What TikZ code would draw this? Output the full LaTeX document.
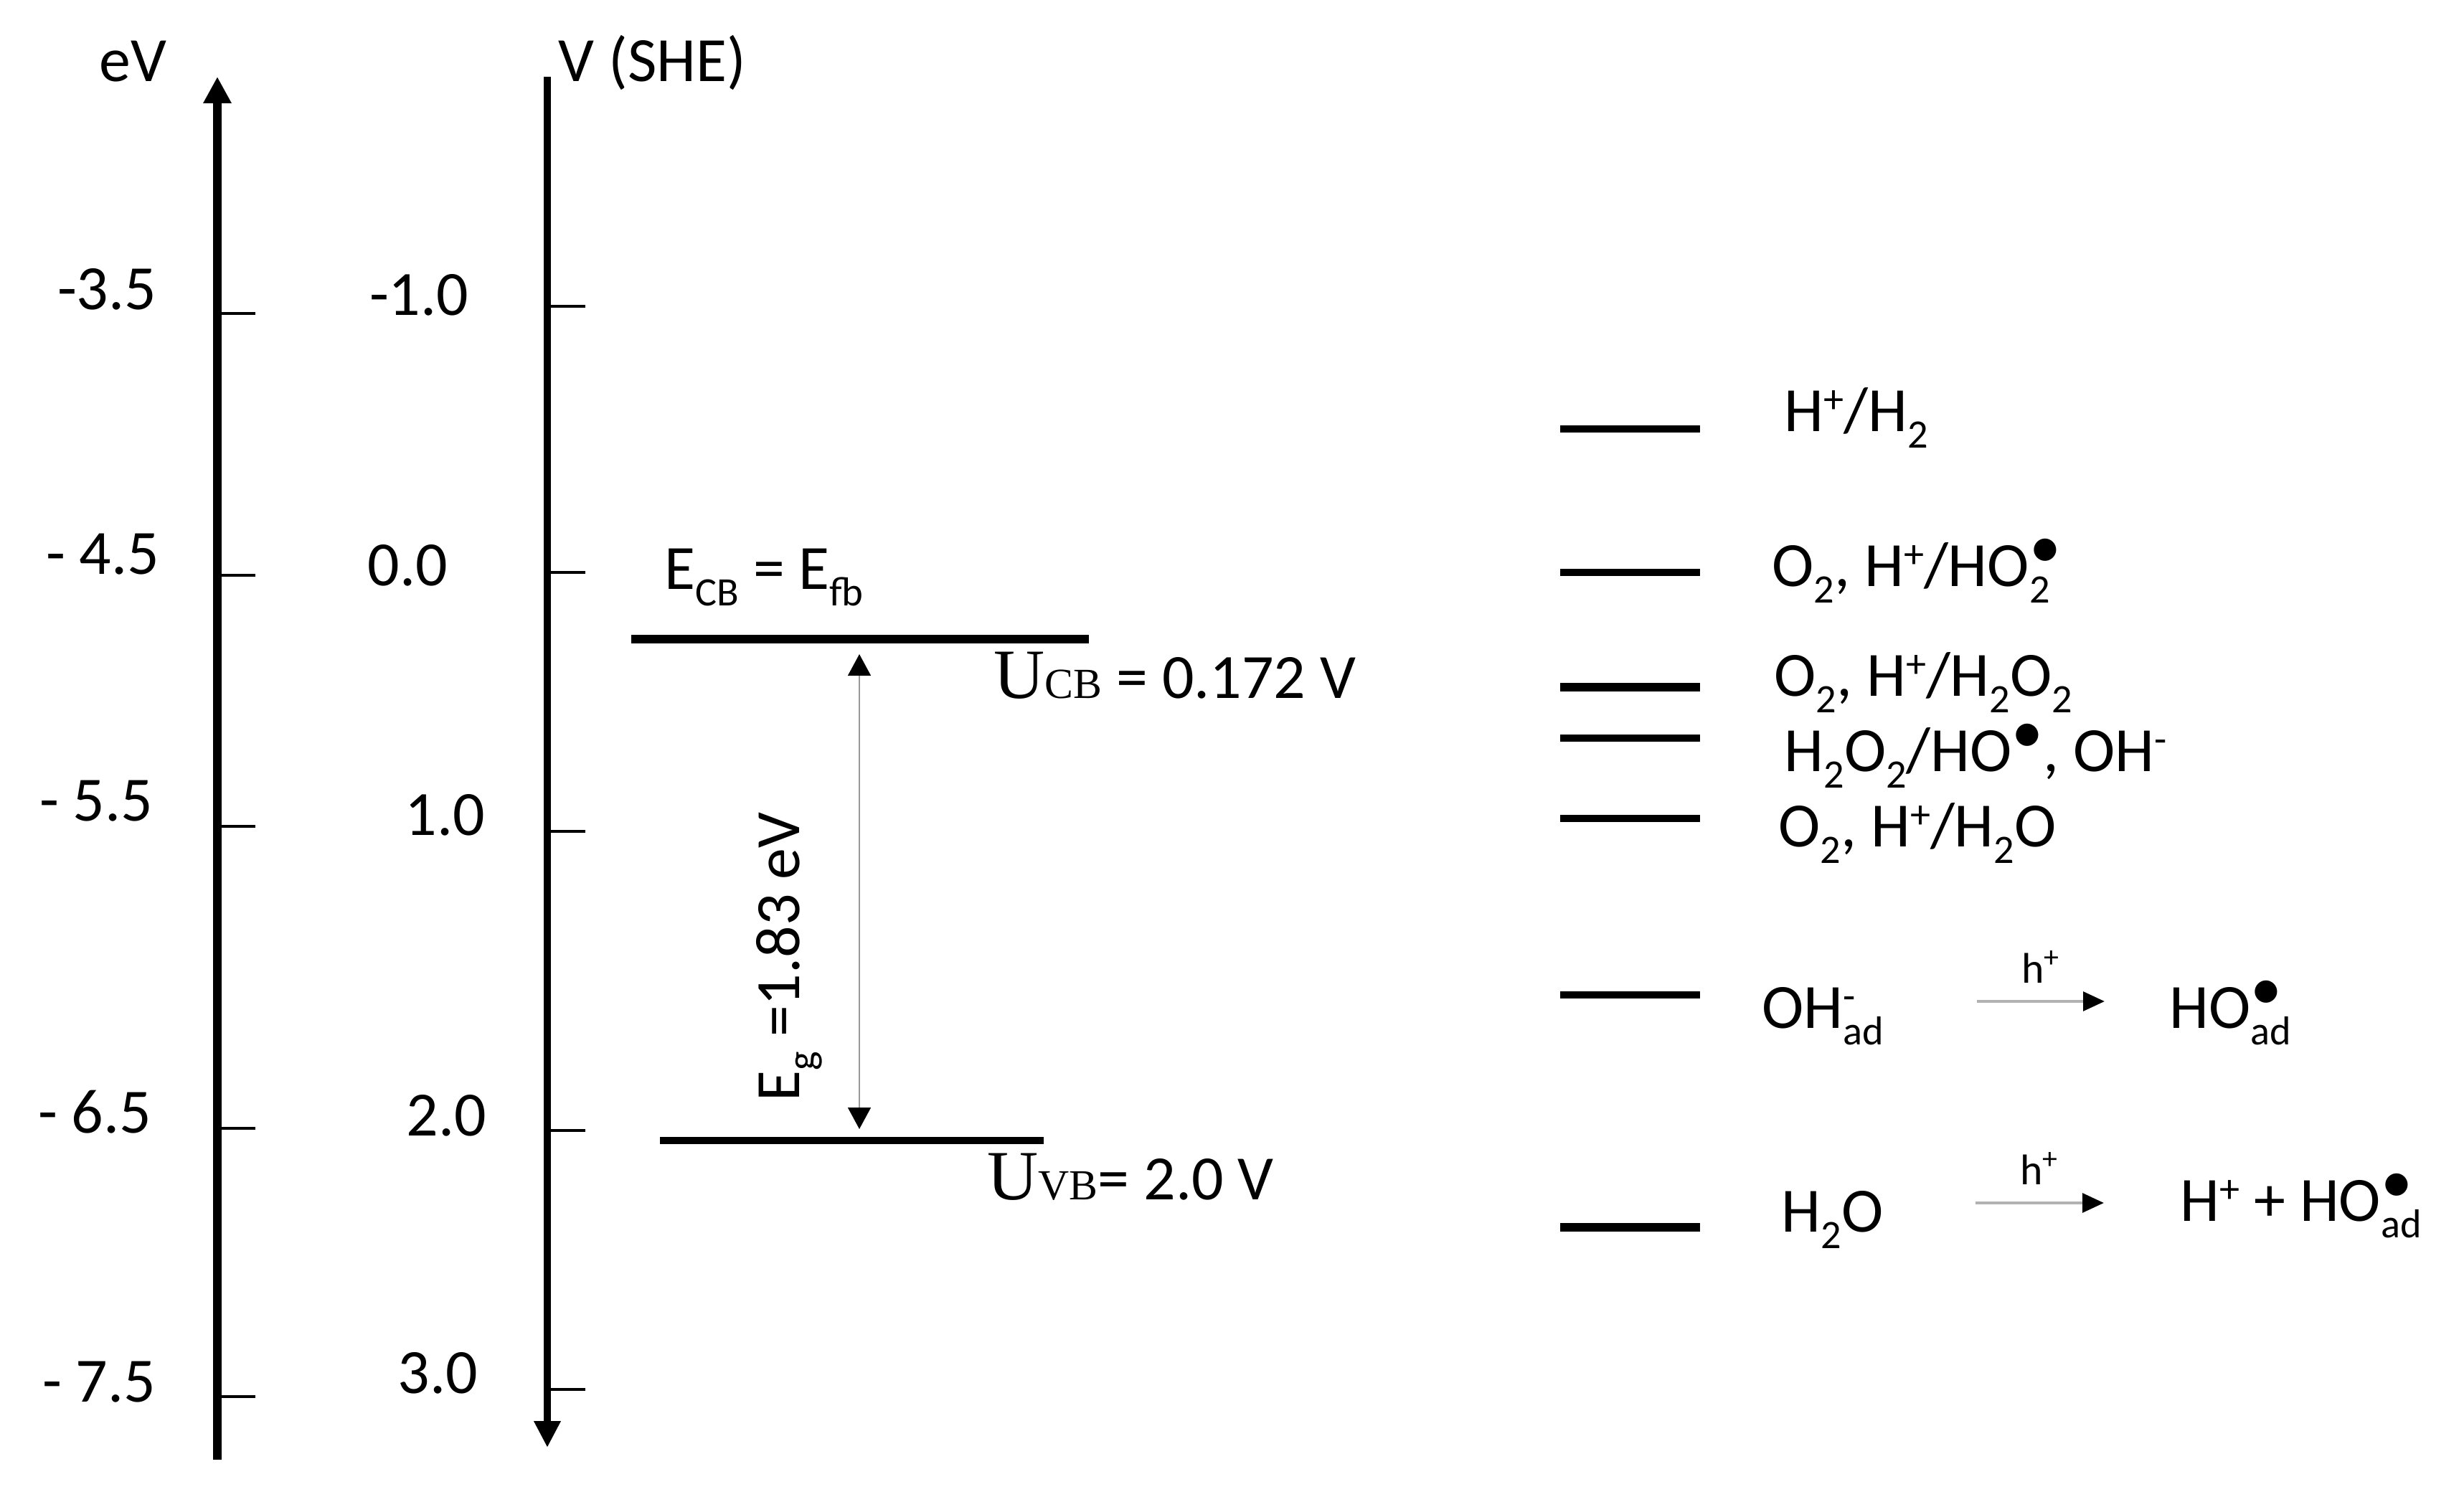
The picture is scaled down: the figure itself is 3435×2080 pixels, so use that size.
\documentclass[tikz,border=0pt]{standalone}
\usepackage{fontspec}
\setmainfont{Carlito}
\newfontfamily\serifU{Liberation Serif}
\usetikzlibrary{positioning, arrows.meta}

\newcommand{\radot}{\raisebox{7.5pt}{\textbullet}}
\newcommand{\chsub}[1]{\raisebox{-6.5pt}{\fontsize{16}{18}\selectfont #1}}
\newcommand{\chsup}[1]{\raisebox{7.5pt}{\fontsize{16}{18}\selectfont #1}}

\begin{document}
\begin{tikzpicture}[
    x=0.01cm, y=-0.01cm,
    txt/.style={font=\fontsize{25}{30}\selectfont, inner sep=0pt},
    small/.style={font=\fontsize{17}{20}\selectfont, inner sep=0pt},
    axis/.style={line width=3.4pt},
    vaxis/.style={line width=2.6pt},
    tickmark/.style={line width=1pt},
    band/.style={line width=3.6pt},
    level/.style={line width=2.8pt},
    biglevel/.style={line width=3.6pt},
    gap/.style={{Triangle[length=8.5pt, width=9pt, color=black]}-{Triangle[length=8.5pt, width=9pt, color=black]}, line width=0.7pt, draw=gray!80},
    rxn/.style={-{Triangle[length=8.5pt, width=7.5pt, color=black]}, line width=1.3pt, draw=gray!60},
]
\useasboundingbox (0,0) rectangle (3435,2080);

% Left: energy scale and potential scale
\draw[axis, -{Triangle[length=10.5pt, width=10.5pt]}] (303,2035) -- (303,107);
\draw[vaxis, -{Triangle[length=10.5pt, width=10pt]}] (763,107) -- (763,2018);
\node[txt, anchor=base west] (evtitle) at (138,114) {eV};
\node[txt, anchor=base west] (shetitle) at (778,114) {V (SHE)};

\foreach \yt/\lab/\xl/\yl [count=\i] in {437/{-3.5}/219/432, 802/{- 4.5}/223/801, 1152/{- 5.5}/214/1145, 1573/{- 6.5}/212/1580, 1947/{- 7.5}/218/1955} {
    \draw[tickmark] (303,\yt) -- (356,\yt);
    \node[txt, anchor=base east] (ev\i) at (\xl,\yl) {\lab};
}
\foreach \yt/\lab/\xl/\yl [count=\i] in {427/{-1.0}/654/440, 798/{0.0}/625/817, 1159/{1.0}/677/1165, 1576/{2.0}/679/1584, 1937/{3.0}/667/1942} {
    \draw[tickmark] (763,\yt) -- (816,\yt);
    \node[txt, anchor=base east] (she\i) at (\xl,\yl) {\lab};
}

% Middle: band edges and gap
\coordinate (cbL) at (880,891);
\coordinate (cbR) at (1518,891);
\coordinate (vbL) at (920,1590);
\coordinate (vbR) at (1455,1590);
\draw[band] (cbL) -- (cbR);
\draw[level] (vbL) -- (vbR);
\node[txt, anchor=base west] (ecb) at (926,822) {E\chsub{CB} = E\chsub{fb}};
\node[txt, anchor=base west] (ucb) at (1385,974) {{\serifU\fontsize{28}{30}\selectfont U}{\serifU\fontsize{17}{20}\selectfont CB} = 0.172 V};
\node[txt, anchor=base west] (uvb) at (1376,1673) {{\serifU\fontsize{28}{30}\selectfont U}{\serifU\fontsize{17}{20}\selectfont VB}= 2.0 V};

\coordinate (gapT) at (1198,912);
\coordinate (gapB) at (1198,1574);
\draw[gap] (gapT) -- (gapB);
\node[txt, rotate=90, anchor=base] (eg) at (1114,1334) {E\chsub{g} =1.83 eV};

% Right: redox levels
\draw[level] (2175,598) -- (2370,598);
\node[txt, anchor=base west] (hh) at (2487,602) {H\chsup{+}/H\chsub{2}};
\draw[level] (2175,798) -- (2370,798);
\node[txt, anchor=base west] (ooh) at (2470,818) {O\chsub{2}, H\chsup{+}/HO\rlap{\radot}\chsub{2}};
\draw[biglevel] (2175,958) -- (2370,958);
\node[txt, anchor=base west] (hoo) at (2473,971) {O\chsub{2}, H\chsup{+}/H\chsub{2}O\chsub{2}};
\draw[level] (2175,1029) -- (2370,1029);
\node[txt, anchor=base west] (hoh) at (2487,1076) {H\chsub{2}O\chsub{2}/HO\radot, OH\chsup{-}};
\draw[level] (2175,1141) -- (2370,1141);
\node[txt, anchor=base west] (water) at (2479,1181) {O\chsub{2}, H\chsup{+}/H\chsub{2}O};

% Right: hole reactions
\draw[level] (2175,1387) -- (2370,1387);
\node[txt, anchor=base west] (ohad) at (2456,1434) {OH\rlap{\chsup{-}}\chsub{ad}};
\node[txt, anchor=base west] (hoad) at (3024,1434) {HO\rlap{\radot}\chsub{ad}};
\coordinate (r1a) at (2756,1396);
\coordinate (r1b) at (2934,1396);
\draw[rxn] (r1a) -- node[small, above=6.5pt, name=hp1] {h\textsuperscript{+}} (r1b);

\draw[biglevel] (2175,1711) -- (2370,1711);
\node[txt, anchor=base west] (hto) at (2483,1718) {H\chsub{2}O};
\node[txt, anchor=base west] (hhoad) at (3039,1703) {H\chsup{+} + HO\rlap{\radot}\chsub{ad}};
\coordinate (r2a) at (2754,1677);
\coordinate (r2b) at (2933,1677);
\draw[rxn] (r2a) -- node[small, above=6.5pt, name=hp2] {h\textsuperscript{+}} (r2b);

\end{tikzpicture}
\end{document}
